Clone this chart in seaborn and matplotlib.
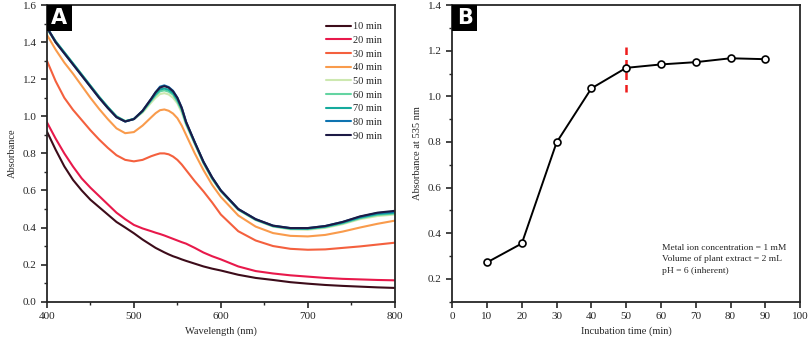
import numpy as np
import pandas as pd
import seaborn as sns
import matplotlib.pyplot as plt
from matplotlib.ticker import MultipleLocator
from matplotlib.patches import Rectangle

# wavelength grid (nm) for the UV-vis spectra
wl = [400, 410, 420, 430, 440, 450, 460, 470, 480, 490, 500, 510, 520, 525, 530, 535, 540, 545,
      550, 555, 560, 570, 580, 590, 600, 620, 640, 660, 680, 700, 720, 740, 760, 780, 800]

abs_10 = [0.918, 0.82, 0.73, 0.657, 0.60, 0.55, 0.51, 0.47, 0.43, 0.40, 0.369, 0.335, 0.305, 0.29, 0.278, 0.266, 0.255, 0.245,
          0.237, 0.228, 0.22, 0.205, 0.19, 0.178, 0.168, 0.145, 0.128, 0.117, 0.105, 0.097, 0.09, 0.085, 0.081, 0.077, 0.074]
abs_20 = [0.968, 0.88, 0.80, 0.729, 0.665, 0.615, 0.57, 0.525, 0.48, 0.445, 0.414, 0.395, 0.38, 0.372, 0.365, 0.357, 0.348, 0.339,
          0.33, 0.321, 0.313, 0.29, 0.265, 0.245, 0.228, 0.19, 0.165, 0.152, 0.142, 0.135, 0.128, 0.123, 0.12, 0.117, 0.115]
abs_30 = [1.30, 1.19, 1.10, 1.035, 0.98, 0.925, 0.875, 0.83, 0.79, 0.765, 0.757, 0.765, 0.785, 0.793, 0.80, 0.80, 0.795, 0.783,
          0.765, 0.74, 0.71, 0.65, 0.595, 0.535, 0.47, 0.38, 0.33, 0.30, 0.285, 0.28, 0.282, 0.29, 0.298, 0.308, 0.318]
abs_40 = [1.44, 1.36, 1.29, 1.23, 1.165, 1.10, 1.04, 0.985, 0.935, 0.909, 0.915, 0.95, 0.995, 1.017, 1.033, 1.037, 1.03, 1.015,
          0.99, 0.95, 0.90, 0.80, 0.71, 0.63, 0.565, 0.465, 0.405, 0.37, 0.355, 0.352, 0.36, 0.378, 0.40, 0.42, 0.437]
abs_50 = [1.47, 1.40, 1.345, 1.285, 1.225, 1.165, 1.105, 1.05, 1.0, 0.975, 0.985, 1.02, 1.075, 1.10, 1.12, 1.125, 1.118, 1.10,
          1.07, 1.02, 0.955, 0.85, 0.745, 0.66, 0.595, 0.495, 0.44, 0.405, 0.39, 0.388, 0.398, 0.418, 0.445, 0.462, 0.47]
abs_60 = [1.475, 1.405, 1.345, 1.285, 1.225, 1.165, 1.105, 1.05, 1.0, 0.974, 0.986, 1.025, 1.085, 1.113, 1.135, 1.14, 1.133, 1.117,
          1.08, 1.033, 0.96, 0.855, 0.75, 0.665, 0.597, 0.497, 0.442, 0.407, 0.393, 0.392, 0.402, 0.422, 0.45, 0.468, 0.475]
abs_70 = [1.478, 1.405, 1.345, 1.285, 1.225, 1.165, 1.105, 1.05, 0.998, 0.973, 0.986, 1.028, 1.09, 1.12, 1.145, 1.15, 1.143, 1.125,
          1.09, 1.04, 0.965, 0.857, 0.752, 0.667, 0.598, 0.498, 0.443, 0.408, 0.395, 0.394, 0.405, 0.426, 0.454, 0.473, 0.48]
abs_80 = [1.48, 1.40, 1.34, 1.28, 1.22, 1.16, 1.10, 1.045, 0.996, 0.972, 0.985, 1.03, 1.095, 1.13, 1.16, 1.167, 1.158, 1.138,
          1.10, 1.048, 0.97, 0.86, 0.755, 0.67, 0.60, 0.50, 0.445, 0.41, 0.397, 0.397, 0.408, 0.43, 0.458, 0.478, 0.485]
abs_90 = [1.48, 1.40, 1.34, 1.28, 1.22, 1.16, 1.10, 1.045, 0.995, 0.972, 0.985, 1.03, 1.095, 1.13, 1.155, 1.163, 1.155, 1.135,
          1.10, 1.045, 0.97, 0.86, 0.755, 0.67, 0.60, 0.50, 0.445, 0.41, 0.397, 0.397, 0.408, 0.43, 0.46, 0.48, 0.49]

labels = ['10 min', '20 min', '30 min', '40 min', '50 min', '60 min', '70 min', '80 min', '90 min']
colors = ['#3d0c1a', '#e8194b', '#f4603e', '#f99b4c', '#cde8b0', '#64d4a2', '#15aa9d', '#0e73b0', '#1d1a45']

# absorbance at 535 nm vs incubation time
inc_time = [10, 20, 30, 40, 50, 60, 70, 80, 90]
abs_535 = [0.272, 0.355, 0.798, 1.035, 1.125, 1.14, 1.15, 1.167, 1.163]

sns.set_style('ticks')
plt.rcParams['font.family'] = ['Liberation Serif', 'DejaVu Serif']
plt.rcParams['font.size'] = 8


def main():
    rows = []
    for lab, ys in zip(labels, [abs_10, abs_20, abs_30, abs_40, abs_50, abs_60, abs_70, abs_80, abs_90]):
        for x, y in zip(wl, ys):
            rows.append((x, y, lab))
    df = pd.DataFrame(rows, columns=['Wavelength', 'Absorbance', 'time'])

    fig = plt.figure(figsize=(8.09, 3.42), dpi=100)
    ax1 = fig.add_axes([0.058, 0.118, 0.43, 0.867])
    ax2 = fig.add_axes([0.559, 0.118, 0.43, 0.867])

    sns.lineplot(data=df, x='Wavelength', y='Absorbance', hue='time', hue_order=labels,
                 palette=dict(zip(labels, colors)), linewidth=1.5, ax=ax1)
    ax1.set_xlim(400, 800)
    ax1.set_ylim(0, 1.6)
    ax1.xaxis.set_major_locator(MultipleLocator(100))
    ax1.xaxis.set_minor_locator(MultipleLocator(50))
    ax1.yaxis.set_major_locator(MultipleLocator(0.2))
    ax1.yaxis.set_minor_locator(MultipleLocator(0.1))
    ax1.yaxis.set_major_formatter(plt.FormatStrFormatter('%.1f'))
    ax1.set_xlabel('Wavelength (nm)', fontsize=7.5)
    ax1.set_ylabel('Absorbance', fontsize=7.5)
    ax1.legend(loc='upper right', frameon=False, fontsize=7.5, handlelength=2.4,
               labelspacing=0.42, handletextpad=0.2, borderaxespad=0.5,
               bbox_to_anchor=(0.99, 0.975))

    sns.lineplot(x=inc_time, y=abs_535, color='black', linewidth=1.4, marker='o',
                 markersize=5, markerfacecolor='white', markeredgecolor='black',
                 markeredgewidth=1.2, ax=ax2, zorder=3)
    ax2.plot([50, 50], [1.02, 1.23], color='#ee1c1c', linestyle=(0, (3, 2)), linewidth=1.8, zorder=2)
    ax2.set_xlim(0, 100)
    ax2.set_ylim(0.1, 1.4)
    ax2.xaxis.set_major_locator(MultipleLocator(10))
    ax2.yaxis.set_major_locator(MultipleLocator(0.2))
    ax2.yaxis.set_minor_locator(MultipleLocator(0.1))
    ax2.set_yticks([0.2, 0.4, 0.6, 0.8, 1.0, 1.2, 1.4])
    ax2.yaxis.set_major_formatter(plt.FormatStrFormatter('%.1f'))
    ax2.set_xlabel('Incubation time (min)', fontsize=7.5)
    ax2.set_ylabel('Absorbance at 535 nm', fontsize=7.5)
    ax2.text(0.603, 0.196, 'Metal ion concentration = 1 mM\nVolume of plant extract = 2 mL\npH = 6 (inherent)',
             transform=ax2.transAxes, fontsize=6.8, va='top', ha='left', linespacing=1.65)

    for ax, letter in [(ax1, 'A'), (ax2, 'B')]:
        for s in ax.spines.values():
            s.set_linewidth(1.3)
            s.set_visible(True)
        ax.tick_params(which='major', direction='out', length=4, width=1.2, labelsize=8,
                       top=False, right=False)
        ax.tick_params(which='minor', direction='out', length=2.5, width=1.0, top=False, right=False)
        ax.add_patch(Rectangle((0, 0.913), 0.072, 0.087, transform=ax.transAxes,
                               facecolor='black', edgecolor='none', zorder=5, clip_on=False))
        ax.text(0.036, 0.955, letter, transform=ax.transAxes, color='white', fontsize=15,
                fontweight='bold', family='DejaVu Sans', ha='center', va='center', zorder=6)

    plt.savefig('out.png', dpi=100)
    plt.close()


if __name__ == "__main__":
    main()
